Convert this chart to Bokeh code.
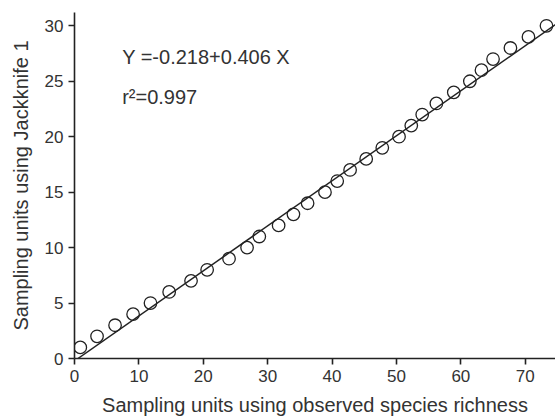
from bokeh.plotting import figure
from bokeh.models import Label, Range1d, FixedTicker
from bokeh.embed import file_html
from bokeh.resources import INLINE

# data
x_observed = [0.9, 3.5, 6.3, 9.1, 11.8, 14.7, 18.1, 20.6, 24.0, 26.8,
              28.7, 31.7, 34.0, 36.2, 38.9, 40.8, 42.8, 45.3, 47.8, 50.4,
              52.3, 54.0, 56.2, 58.9, 61.4, 63.2, 65.0, 67.7, 70.5, 73.3]
y_jackknife = [1, 2, 3, 4, 5, 6, 7, 8, 9, 10,
               11, 12, 13, 14, 15, 16, 17, 18, 19, 20,
               21, 22, 23, 24, 25, 26, 27, 28, 29, 30]
intercept = -0.218
slope = 0.406
r2 = 0.997
x_ticks = [0, 10, 20, 30, 40, 50, 60, 70]
y_ticks = [0, 5, 10, 15, 20, 25, 30]

X_END = 74.7
Y_END = 31.2
FONT = "Liberation Sans"
TXT = "#333333"
INK = "#222222"

p = figure(width=555, height=418, output_backend="svg", toolbar_location=None,
           x_range=Range1d(0, X_END), y_range=Range1d(0, Y_END),
           min_border_left=74, min_border_right=0, min_border_top=12, min_border_bottom=60)
p.outline_line_color = None
p.grid.visible = False
p.background_fill_color = "white"

for ax in (p.xaxis[0], p.yaxis[0]):
    ax.axis_line_color = INK
    ax.axis_line_width = 1.6
    ax.major_tick_line_color = INK
    ax.major_tick_line_width = 1.6
    ax.major_tick_out = 6
    ax.major_tick_in = 0
    ax.minor_tick_line_color = None
    ax.major_label_text_font = FONT
    ax.major_label_text_font_size = "17px"
    ax.major_label_text_color = TXT
    ax.axis_label_text_font = FONT
    ax.axis_label_text_font_size = "20px"
    ax.axis_label_text_font_style = "normal"
    ax.axis_label_text_color = TXT

p.xaxis.ticker = FixedTicker(ticks=x_ticks)
p.yaxis.ticker = FixedTicker(ticks=y_ticks)
p.xaxis.axis_label = "Sampling units using observed species richness"
p.yaxis.axis_label = "Sampling units using Jackknife 1"
p.xaxis.major_label_standoff = 5
p.yaxis.major_label_standoff = 5
p.xaxis.axis_label_standoff = 9
p.yaxis.axis_label_standoff = 10

# regression line
x0 = -intercept / slope
p.line([x0, X_END], [intercept + slope * x0, intercept + slope * X_END],
       line_color=INK, line_width=1.5)

p.scatter(x_observed, y_jackknife, marker="circle", size=12.5,
          fill_color=None, line_color=INK, line_width=1.3)

p.add_layout(Label(x=7.4, y=27.15, text=f"Y ={intercept}+{slope} X",
                   text_font=FONT, text_font_size="20px", text_color=TXT,
                   text_baseline="alphabetic"))
p.add_layout(Label(x=7.4, y=23.6, text=f"r\u00b2={r2}",
                   text_font=FONT, text_font_size="20px", text_color=TXT,
                   text_baseline="alphabetic"))

open("out.html", "w").write(file_html(p, INLINE))
